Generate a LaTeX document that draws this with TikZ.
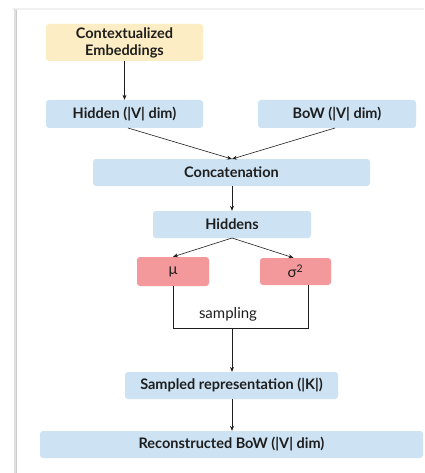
\documentclass[tikz,border=0pt]{standalone}
\usepackage{fontspec}
\setmainfont{Lato}
\usetikzlibrary{arrows.meta}
\definecolor{boxblue}{HTML}{CDE3F4}
\definecolor{boxyellow}{HTML}{FDEDC4}
\definecolor{boxred}{HTML}{F4999B}
\definecolor{txt}{HTML}{1E1E1E}
\begin{document}
\begin{tikzpicture}[x=1pt,y=-1pt,
  box/.style={rounded corners=3pt, inner sep=0pt, text=txt, font=\bfseries\fontsize{14.5}{17}\selectfont, align=center},
  bluebox/.style={box, fill=boxblue},
  arr/.style={-{Stealth[length=5pt,width=4pt]}, draw=txt, line width=0.6pt},
  ln/.style={draw=txt, line width=0.6pt}]
\useasboundingbox (0,0) rectangle (424,473);
% card shadow
\fill[black!6] (13,8) rectangle (424,10);
\fill[black!12] (14,9) rectangle (17,473);
\fill[black!20] (15.5,10) rectangle (17,473);
\fill[white] (17,10) rectangle (424,473);
% nodes
\node[box, fill=boxyellow, minimum width=157pt, minimum height=37pt] (ctx) at (124.5,42.5) {Contextualized\\Embeddings};
\node[bluebox, minimum width=157pt, minimum height=28pt] (hid) at (124.5,114) {Hidden (|V| dim)};
\node[bluebox, minimum width=158pt, minimum height=28pt] (bow) at (337,114) {BoW (|V| dim)};
\node[bluebox, minimum width=277pt, minimum height=27pt] (cat) at (231.5,172.5) {Concatenation};
\node[bluebox, minimum width=158pt, minimum height=27pt] (hds) at (232,224.5) {Hiddens};
\node[box, fill=boxred, font=\fontsize{15}{17}\selectfont, minimum width=72pt, minimum height=29pt] (mu) at (173,271.5) {μ};
\node[box, fill=boxred, font=\fontsize{15}{17}\selectfont, minimum width=71pt, minimum height=27pt] (sig) at (295.5,271.5) {σ\textsuperscript{2}};
\node[text=txt, font=\fontsize{15}{17}\selectfont, inner sep=0pt] (samp) at (228,314) {sampling};
\node[bluebox, minimum width=213pt, minimum height=27pt] (srep) at (231.5,385.5) {Sampled representation (|K|)};
\node[bluebox, minimum width=383pt, minimum height=27pt] (rec) at (231.5,444.5) {Reconstructed BoW (|V| dim)};
\coordinate (join) at (232,328);
\coordinate (catin) at (232,159);
\coordinate (hidout) at (128,128);
\coordinate (bowout) at (335,128);
\coordinate (hdsout) at (232,238);
\coordinate (sigout) at (308,285);
% connectors
\draw[arr] (ctx.south) -- (hid.north);
\draw[arr] (hidout) -- (catin);
\draw[arr] (bowout) -- (catin);
\draw[arr] (cat.south -| catin) -- (hds.north -| catin);
\draw[arr] (hdsout) -- (mu.north);
\draw[arr] (hdsout) -- ([xshift=-2pt]sig.north);
\draw[ln] (mu.south) -- (mu.south |- join) -- (sigout |- join) -- (sigout);
\draw[arr] (join) -- (srep.north -| join);
\draw[arr] (srep.south -| join) -- (rec.north -| join);
\end{tikzpicture}
\end{document}
